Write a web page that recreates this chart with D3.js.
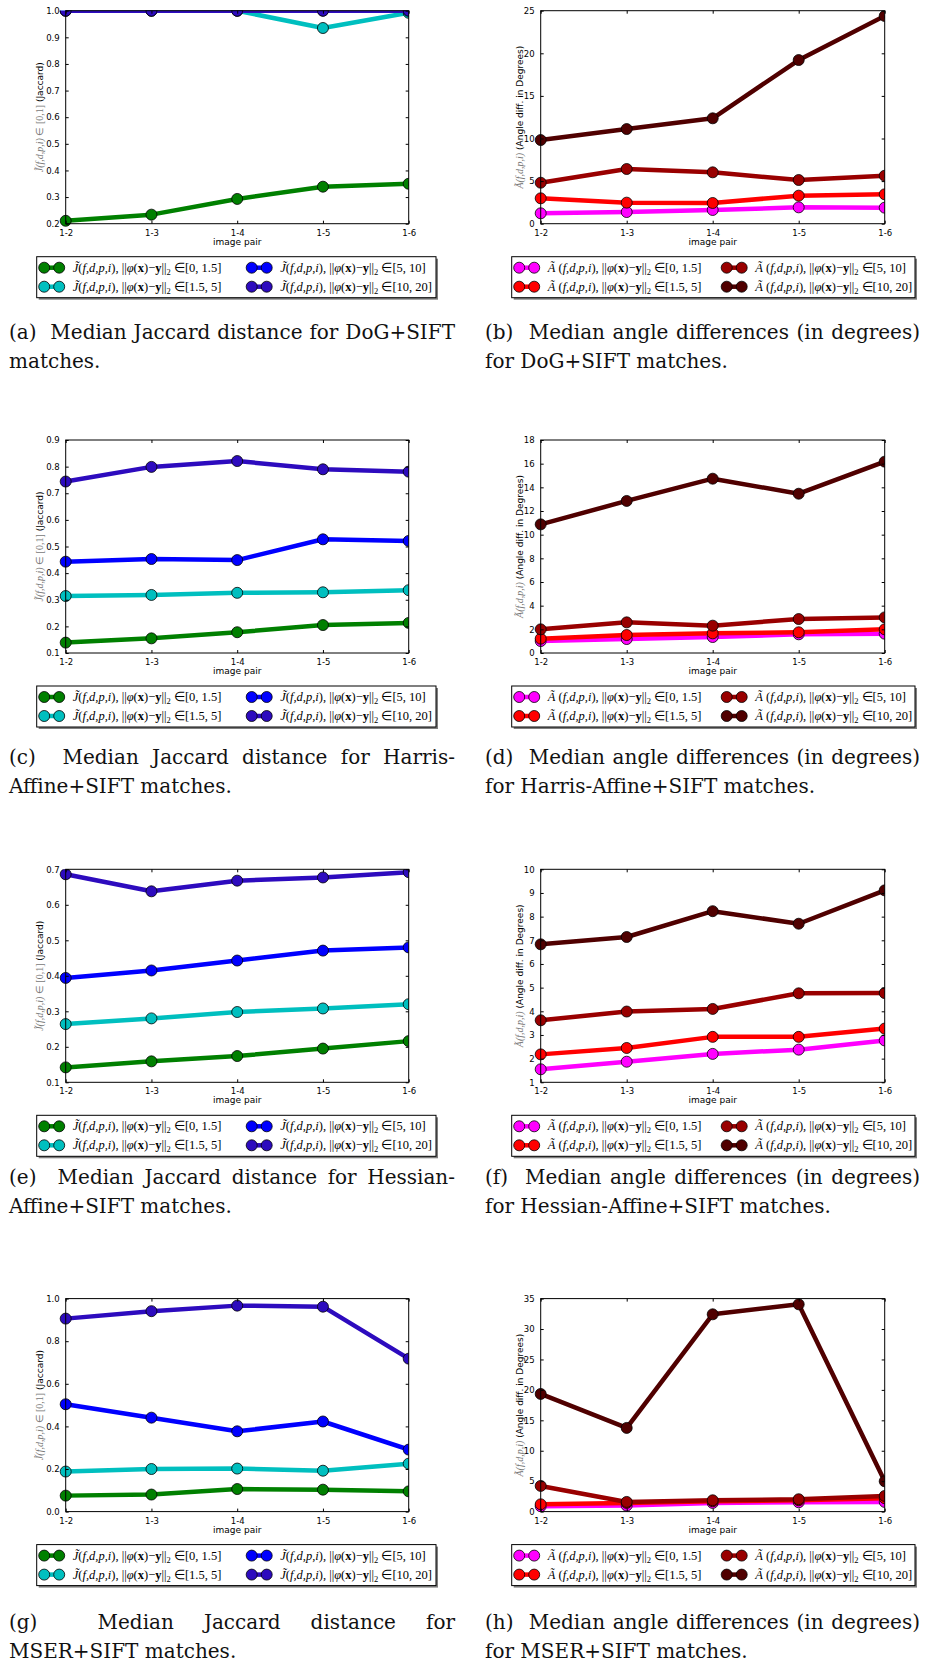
<!DOCTYPE html>
<html><head><meta charset="utf-8">
<script src="https://cdn.jsdelivr.net/npm/d3@7"></script>
<style>body{margin:0;background:#fff} svg{display:block}</style>
</head><body>
<svg id="fig" width="931" height="1663"></svg>
<script>
// ---------------- data ----------------
const pairs = ["1-2", "1-3", "1-4", "1-5", "1-6"];
const bins = ["[0, 1.5]", "[1.5, 5]", "[5, 10]", "[10, 20]"];
const jaccardColors = ["#008000", "#00bfbf", "#0000ff", "#2d0bbe"];
const angleColors = ["#ff00ff", "#ff0000", "#990000", "#500000"];

// each row: one distance bin, values for pairs 1-2 ... 1-6
const dogJaccard = [[0.211, 0.234, 0.293, 0.339, 0.350], [1.0, 1.0, 1.0, 0.935, 0.992], [1.0, 1.0, 1.0, 1.0, 1.0], [1.0, 1.0, 1.0, 1.0, 1.0]];
const dogAngle = [[1.22, 1.37, 1.61, 1.92, 1.88], [2.98, 2.47, 2.43, 3.29, 3.45], [4.81, 6.42, 6.03, 5.13, 5.63], [9.82, 11.11, 12.37, 19.21, 24.38]];
const harrisJaccard = [[0.139, 0.155, 0.178, 0.205, 0.213], [0.314, 0.318, 0.326, 0.328, 0.336], [0.443, 0.453, 0.449, 0.527, 0.521], [0.744, 0.799, 0.821, 0.790, 0.781]];
const harrisAngle = [[1.01, 1.18, 1.35, 1.58, 1.63], [1.21, 1.52, 1.66, 1.75, 2.0], [2.0, 2.59, 2.31, 2.87, 3.01], [10.87, 12.85, 14.73, 13.46, 16.17]];
const hessianJaccard = [[0.142, 0.159, 0.174, 0.195, 0.216], [0.264, 0.280, 0.298, 0.308, 0.320], [0.394, 0.415, 0.443, 0.471, 0.480], [0.686, 0.638, 0.668, 0.677, 0.692]];
const hessianAngle = [[1.55, 1.87, 2.20, 2.38, 2.77], [2.18, 2.45, 2.92, 2.92, 3.27], [3.62, 3.99, 4.10, 4.76, 4.77], [6.83, 7.14, 8.23, 7.70, 9.11]];
const mserJaccard = [[0.075, 0.080, 0.106, 0.103, 0.095], [0.188, 0.200, 0.202, 0.192, 0.225], [0.504, 0.441, 0.377, 0.423, 0.291], [0.906, 0.941, 0.967, 0.962, 0.718]];
const mserAngle = [[0.88, 0.99, 1.42, 1.53, 1.59], [1.20, 1.42, 1.70, 1.86, 2.20], [4.22, 1.59, 1.86, 2.03, 2.57], [19.33, 13.75, 32.42, 34.06, 4.98]];

// tick labels
const ticksA = [0.2, 0.3, 0.4, 0.5, 0.6, 0.7, 0.8, 0.9, 1.0];
const ticksB = [0, 5, 10, 15, 20, 25];
const ticksC = [0.1, 0.2, 0.3, 0.4, 0.5, 0.6, 0.7, 0.8, 0.9];
const ticksD = [0, 2, 4, 6, 8, 10, 12, 14, 16, 18];
const ticksE = [0.1, 0.2, 0.3, 0.4, 0.5, 0.6, 0.7];
const ticksF = [1, 2, 3, 4, 5, 6, 7, 8, 9, 10];
const ticksG = [0.0, 0.2, 0.4, 0.6, 0.8, 1.0];
const ticksH = [0, 5, 10, 15, 20, 25, 30, 35];

// captions
const captions = [
  [["(a)", "Median", "Jaccard", "distance", "for", "DoG+SIFT"], "matches."],
  [["(b)", "Median", "angle", "differences", "(in", "degrees)"], "for DoG+SIFT matches."],
  [["(c)", "Median", "Jaccard", "distance", "for", "Harris-"], "Affine+SIFT matches."],
  [["(d)", "Median", "angle", "differences", "(in", "degrees)"], "for Harris-Affine+SIFT matches."],
  [["(e)", "Median", "Jaccard", "distance", "for", "Hessian-"], "Affine+SIFT matches."],
  [["(f)", "Median", "angle", "differences", "(in", "degrees)"], "for Hessian-Affine+SIFT matches."],
  [["(g)", "Median", "Jaccard", "distance", "for"], "MSER+SIFT matches."],
  [["(h)", "Median", "angle", "differences", "(in", "degrees)"], "for MSER+SIFT matches."]
];

// ---------------- layout ----------------
const panels = [
  {kind: "J", data: dogJaccard, ticks: ticksA, fmt: ".1f"},
  {kind: "A", data: dogAngle, ticks: ticksB, fmt: "d"},
  {kind: "J", data: harrisJaccard, ticks: ticksC, fmt: ".1f"},
  {kind: "A", data: harrisAngle, ticks: ticksD, fmt: "d"},
  {kind: "J", data: hessianJaccard, ticks: ticksE, fmt: ".1f"},
  {kind: "A", data: hessianAngle, ticks: ticksF, fmt: "d"},
  {kind: "J", data: mserJaccard, ticks: ticksG, fmt: ".1f"},
  {kind: "A", data: mserAngle, ticks: ticksH, fmt: "d"}
];

const svg = d3.select("#fig");
const defs = svg.append("defs");
const colX = [{left: 65.7, right: 408.7, legL: 36.7, legR: 436, ylabX: 37.7, capL: 9, capR: 455},
              {left: 540.7, right: 884.7, legL: 511.7, legR: 915, ylabX: 517.3, capL: 485, capR: 920}];
const rowTop = 10.7, rowStep = 429.3, plotH = 213;
const capOffset = [328.5, 323.5, 314.5, 330];
const SANS = "DejaVu Sans", MATH = "Liberation Serif", CAP = "DejaVu Serif";
const lineW = 4.5, mR = 5.5;

function addLegendLabel(t, kind, bin) {
  t.append("tspan").attr("font-style", "italic").text(kind === "J" ? "J\u0303" : "A\u0303");
  t.append("tspan").text(kind === "J" ? "(" : " (");
  t.append("tspan").attr("font-style", "italic").text("f,d,p,i");
  t.append("tspan").text("), ||");
  t.append("tspan").attr("font-style", "italic").text("\u03c6");
  t.append("tspan").text("(");
  t.append("tspan").attr("font-weight", "bold").text("x");
  t.append("tspan").text(")\u2212");
  t.append("tspan").attr("font-weight", "bold").text("y");
  t.append("tspan").text("||");
  t.append("tspan").attr("font-size", 8.5).attr("dy", 3).text("2");
  t.append("tspan").attr("dy", -3).text(" \u2208" + bin);
}

panels.forEach((p, i) => {
  const col = colX[i % 2];
  const row = Math.floor(i / 2);
  const top = rowTop + rowStep * row;
  const bottom = top + plotH;
  const colors = p.kind === "J" ? jaccardColors : angleColors;
  const g = svg.append("g");

  const x = d3.scalePoint().domain(pairs).range([col.left, col.right]).padding(0);
  const y = d3.scaleLinear().domain(d3.extent(p.ticks)).range([bottom, top]);

  // clip (top & right clipped)
  const cid = "clip" + i;
  defs.append("clipPath").attr("id", cid).append("rect")
    .attr("x", col.left - 20).attr("y", top)
    .attr("width", col.right - col.left + 20).attr("height", plotH + 20);

  const series = g.append("g").attr("clip-path", `url(#${cid})`);
  const line = d3.line().x((d, k) => x(pairs[k])).y(d => y(d));
  p.data.forEach((vals, s) => {
    const sg = series.append("g");
    sg.append("path").attr("d", line(vals)).attr("fill", "none")
      .attr("stroke", colors[s]).attr("stroke-width", lineW).attr("stroke-linejoin", "round");
    sg.selectAll("circle").data(vals).join("circle")
      .attr("cx", (d, k) => x(pairs[k])).attr("cy", d => y(d)).attr("r", mR)
      .attr("fill", colors[s]).attr("stroke", "#000").attr("stroke-width", 0.8);
  });

  // frame
  g.append("rect").attr("x", col.left).attr("y", top).attr("width", col.right - col.left)
    .attr("height", plotH).attr("fill", "none").attr("stroke", "#000").attr("stroke-width", 1);

  // axes with inward ticks
  const fmt = d3.format(p.fmt);
  const axL = d3.axisLeft(y).tickValues(p.ticks).tickSize(-3).tickPadding(6).tickFormat(fmt);
  const axR = d3.axisRight(y).tickValues(p.ticks).tickSize(-3).tickFormat("");
  const axB = d3.axisBottom(x).tickSize(-3).tickPadding(6);
  const axT = d3.axisTop(x).tickSize(-3).tickFormat("");
  const styleAxis = a => {
    a.select(".domain").remove();
    a.selectAll("line").attr("stroke", "#000");
    a.selectAll("text").attr("font-family", SANS).attr("font-size", 8.5).attr("fill", "#000");
  };
  g.append("g").attr("transform", `translate(${col.left},0)`).call(axL).call(styleAxis);
  g.append("g").attr("transform", `translate(${col.right},0)`).call(axR).call(styleAxis);
  g.append("g").attr("transform", `translate(0,${bottom})`).call(axB).call(styleAxis);
  g.append("g").attr("transform", `translate(0,${top})`).call(axT).call(styleAxis);

  // x label
  g.append("text").attr("x", (col.left + col.right) / 2).attr("y", bottom + 21)
    .attr("text-anchor", "middle").attr("font-family", SANS).attr("font-size", 9).text("image pair");

  // y label
  const yl = g.append("text")
    .attr("transform", `translate(${col.ylabX},${(top + bottom) / 2}) rotate(-90)`)
    .attr("text-anchor", "middle").attr("dy", "0.35em");
  if (p.kind === "J") {
    yl.append("tspan").attr("font-family", MATH).attr("font-size", 10).attr("fill", "#777")
      .attr("font-style", "italic").text("J\u0303(f,d,p,i)");
    yl.append("tspan").attr("font-family", MATH).attr("font-size", 10).attr("fill", "#777")
      .text(" \u2208 [0,1]");
    yl.append("tspan").attr("font-family", SANS).attr("font-size", 9).attr("fill", "#000").text(" (Jaccard)");
  } else {
    yl.append("tspan").attr("font-family", MATH).attr("font-size", 10).attr("fill", "#777")
      .attr("font-style", "italic").text("A\u0303(f,d,p,i)");
    yl.append("tspan").attr("font-family", SANS).attr("font-size", 9).attr("fill", "#000").text(" (Angle diff. in Degrees)");
  }

  // legend
  const lt = top + 246, lh = 41;
  const lg = g.append("g");
  lg.append("rect").attr("x", col.legL + 2).attr("y", lt + 2).attr("width", col.legR - col.legL)
    .attr("height", lh).attr("fill", "#7f7f7f");
  lg.append("rect").attr("x", col.legL).attr("y", lt).attr("width", col.legR - col.legL)
    .attr("height", lh).attr("fill", "#fff").attr("stroke", "#000").attr("stroke-width", 1);
  const entryPos = [[0, 0], [0, 1], [1, 0], [1, 1]];
  bins.forEach((b, s) => {
    const [c, r] = entryPos[s];
    const ox = col.legL + (c === 0 ? 0 : 207.5);
    const cy = lt + 11 + r * 19;
    lg.append("line").attr("x1", ox + 7.5).attr("x2", ox + 22.5).attr("y1", cy).attr("y2", cy)
      .attr("stroke", colors[s]).attr("stroke-width", lineW);
    [7.5, 22.5].forEach(dx => lg.append("circle").attr("cx", ox + dx).attr("cy", cy).attr("r", mR)
      .attr("fill", colors[s]).attr("stroke", "#000").attr("stroke-width", 0.8));
    const t = lg.append("text").attr("x", ox + 36).attr("y", cy + 4)
      .attr("font-family", MATH).attr("font-size", 12.5).attr("fill", "#000");
    addLegendLabel(t, p.kind, b);
  });

  // caption
  const [words, line2] = captions[i];
  const base1 = top + capOffset[row], base2 = base1 + 29;
  const nodes = words.map(w => g.append("text").attr("y", base1).attr("font-family", CAP)
    .attr("font-size", 20).attr("fill", "#111").text(w));
  const widths = nodes.map(n => n.node().getComputedTextLength());
  const weights = words.map((w, k) => k === 0 ? 0 : (k === 1 ? 2 : 1));
  const gap = (col.capR - col.capL - d3.sum(widths)) / d3.sum(weights);
  let cx = col.capL;
  nodes.forEach((n, k) => { cx += weights[k] * gap; n.attr("x", cx); cx += widths[k]; });
  g.append("text").attr("x", col.capL).attr("y", base2).attr("font-family", CAP)
    .attr("font-size", 20).attr("fill", "#111").text(line2);
});
</script>
</body></html>
